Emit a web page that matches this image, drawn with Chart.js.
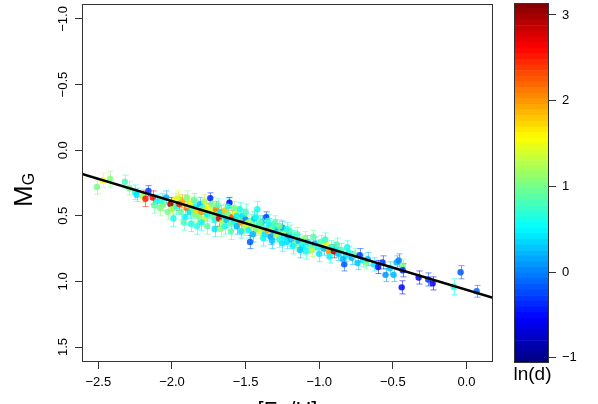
<!DOCTYPE html>
<html>
<head>
<meta charset="utf-8">
<script src="https://cdn.jsdelivr.net/npm/chart.js@4.4.1/dist/chart.umd.min.js"></script>
<style>
  html, body { margin: 0; padding: 0; background: #fff; overflow: hidden; }
  #wrap { position: relative; width: 598px; height: 404px; }
  #main { position: absolute; left: 0; top: 0; }
  #cbar { position: absolute; left: 500px; top: 0; }
</style>
</head>
<body>
<div id="wrap">
  <canvas id="main" width="510" height="404"></canvas>
  <canvas id="cbar" width="98" height="404"></canvas>
</div>
<script>
// ---- data ----
const feh = [
  -2.51, -2.47, -2.42, -2.32, -2.29, -2.25, -2.24, -2.20, -2.18, -2.16,
  -2.13, -2.10, -2.08, -2.06, -2.04, -2.01, -2.00, -1.98, -1.97, -1.95,
  -1.94, -1.93, -1.91, -1.90, -1.89, -1.88, -1.87, -1.86, -1.85, -1.84,
  -1.83, -1.82, -1.81, -1.80, -1.79, -1.78, -1.77, -1.76, -1.75, -1.74,
  -1.73, -1.72, -1.71, -1.70, -1.69, -1.68, -1.67, -1.66, -1.65, -1.64,
  -1.63, -1.62, -1.61, -1.60, -1.59, -1.58, -1.57, -1.56, -1.55, -1.54,
  -1.53, -1.52, -1.51, -1.50, -1.49, -1.48, -1.47, -1.46, -1.45, -1.44,
  -1.43, -1.42, -1.41, -1.40, -1.39, -1.38, -1.37, -1.36, -1.35, -1.34,
  -1.33, -1.32, -1.31, -1.30, -1.29, -1.28, -1.27, -1.26, -1.25, -1.24,
  -1.23, -1.22, -1.21, -1.20, -1.19, -1.17, -1.16, -1.14, -1.12, -1.11,
  -1.10, -1.08, -1.06, -1.05, -1.03, -1.01, -0.99, -0.97, -0.95, -0.935,
  -0.92, -0.90, -0.89, -0.87, -0.85, -0.83, -0.82, -0.80, -0.78, -0.76,
  -0.74, -0.725, -0.70, -0.68, -0.67, -0.63, -0.60, -0.57, -0.55, -0.52,
  -0.495, -0.475, -0.46, -0.433, -0.433, -0.44, -0.325, -0.26, -0.23, -0.087,
  -0.04, 0.069,
  -2.12, -2.07, -2.03, -1.99, -1.96, -1.92, -1.90, -1.87, -1.85, -1.83,
  -1.80, -1.78, -1.76, -1.73, -1.71, -1.69, -1.67, -1.64, -1.62, -1.60,
  -1.58, -1.56, -1.53, -1.50, -1.48, -1.45, -1.43, -1.40, -1.38, -1.35,
  -1.32, -1.30, -1.27, -1.25, -1.22, -1.18, -1.15, -1.13, -1.09, -1.04,
  -1.00, -0.96, -0.93, -0.88, -0.84, -0.81
];
const mg = [
  0.28, 0.23, 0.22, 0.24, 0.29, 0.32, 0.34, 0.35, 0.37, 0.31,
  0.36, 0.39, 0.44, 0.41, 0.36, 0.41, 0.45, 0.38, 0.43, 0.41,
  0.47, 0.39, 0.51, 0.44, 0.42, 0.47, 0.40, 0.45, 0.49, 0.43,
  0.46, 0.50, 0.41, 0.47, 0.44, 0.52, 0.46, 0.49, 0.43, 0.365,
  0.50, 0.47, 0.53, 0.45, 0.49, 0.52, 0.47, 0.55, 0.50, 0.46,
  0.53, 0.49, 0.40, 0.56, 0.51, 0.54, 0.48, 0.58, 0.52, 0.45,
  0.55, 0.50, 0.59, 0.53, 0.56, 0.61, 0.70, 0.54, 0.58, 0.52,
  0.60, 0.45, 0.57, 0.62, 0.55, 0.59, 0.64, 0.51, 0.61, 0.57,
  0.66, 0.60, 0.63, 0.58, 0.65, 0.61, 0.68, 0.62, 0.59, 0.66,
  0.63, 0.70, 0.65, 0.62, 0.68, 0.66, 0.71, 0.69, 0.72, 0.74,
  0.67, 0.70, 0.73, 0.76, 0.71, 0.74, 0.70, 0.75, 0.72, 0.77,
  0.74, 0.77, 0.75, 0.79, 0.76, 0.87, 0.80, 0.78, 0.82, 0.80,
  0.86, 0.80, 0.84, 0.855, 0.83, 0.87, 0.89, 0.855, 0.95, 0.90,
  0.95, 0.855, 0.84, 0.88, 0.915, 1.045, 0.97, 0.985, 1.015, 1.04,
  0.93, 1.075,
  0.42, 0.38, 0.47, 0.52, 0.36, 0.55, 0.36, 0.56, 0.38, 0.58,
  0.55, 0.39, 0.58, 0.41, 0.60, 0.42, 0.60, 0.58, 0.43, 0.62,
  0.44, 0.50, 0.62, 0.47, 0.55, 0.64, 0.51, 0.55, 0.67, 0.54,
  0.69, 0.55, 0.58, 0.71, 0.60, 0.73, 0.64, 0.76, 0.77, 0.66,
  0.79, 0.68, 0.81, 0.72, 0.83, 0.74
];
const mgErr = [
  0.055, 0.055, 0.06, 0.05, 0.05, 0.055, 0.05, 0.05, 0.06, 0.04,
  0.05, 0.05, 0.06, 0.05, 0.05, 0.05, 0.05, 0.05, 0.06, 0.05,
  0.06, 0.05, 0.06, 0.05, 0.05, 0.05, 0.05, 0.06, 0.06, 0.05,
  0.05, 0.05, 0.05, 0.06, 0.05, 0.06, 0.05, 0.05, 0.05, 0.04,
  0.05, 0.05, 0.05, 0.06, 0.05, 0.06, 0.05, 0.05, 0.05, 0.05,
  0.06, 0.05, 0.04, 0.05, 0.05, 0.06, 0.05, 0.06, 0.05, 0.05,
  0.05, 0.05, 0.06, 0.05, 0.05, 0.06, 0.05, 0.05, 0.05, 0.05,
  0.05, 0.06, 0.05, 0.05, 0.05, 0.06, 0.05, 0.04, 0.05, 0.05,
  0.06, 0.05, 0.05, 0.05, 0.05, 0.05, 0.06, 0.05, 0.05, 0.05,
  0.05, 0.05, 0.05, 0.05, 0.05, 0.05, 0.06, 0.05, 0.05, 0.05,
  0.05, 0.05, 0.05, 0.05, 0.05, 0.05, 0.05, 0.05, 0.05, 0.05,
  0.05, 0.05, 0.05, 0.05, 0.05, 0.05, 0.05, 0.05, 0.05, 0.05,
  0.05, 0.05, 0.05, 0.05, 0.05, 0.05, 0.05, 0.05, 0.05, 0.05,
  0.05, 0.05, 0.05, 0.05, 0.05, 0.05, 0.05, 0.05, 0.05, 0.06,
  0.05, 0.045,
  0.06, 0.05, 0.06, 0.06, 0.05, 0.06, 0.05, 0.06, 0.05, 0.06,
  0.06, 0.05, 0.06, 0.05, 0.06, 0.05, 0.06, 0.06, 0.06, 0.06,
  0.05, 0.06, 0.05, 0.06, 0.05, 0.06, 0.05, 0.05, 0.06, 0.05,
  0.06, 0.05, 0.05, 0.06, 0.05, 0.06, 0.05, 0.06, 0.06, 0.05,
  0.06, 0.05, 0.05, 0.05, 0.05, 0.05
];
const lnd = [
  1.0, 1.5, 1.1, 0.8, 1.0, 0.6, 0.4, 1.2, 2.5, -0.3,
  2.6, 0.5, 1.1, 1.0, 0.2, 3.0, 1.3, 1.6, 0.7, 2.5,
  0.9, 1.9, 0.5, 2.2, 1.2, 0.4, 1.5, 0.9, 1.0, 0.6,
  1.7, 1.1, 0.3, 2.0, 0.8, 1.3, 1.3, 0.5, 1.6, -0.4,
  0.9, 1.4, 0.6, 2.1, 1.0, 2.7, 0.4, 1.2, 0.7, 1.8,
  0.3, 1.1, -0.5, 0.8, 2.3, 0.6, 1.5, 0.2, 1.0, 0.6,
  2.0, 0.4, 1.2, 0.0, 1.6, 0.5, -0.2, 0.9, 1.2, 0.3,
  1.1, 0.6, 0.7, 1.4, 0.2, 0.8, 0.4, -0.3, 1.9, 0.5,
  0.1, 1.0, 0.3, 0.7, 1.3, 0.2, 0.6, 0.9, 0.1, 0.5,
  1.2, 0.4, 0.0, 0.8, 0.3, 0.6, 1.0, 0.2, 0.7, 0.5,
  1.1, 0.4, 0.8, 1.3, 0.3, 0.6, 0.9, 0.2, 1.6, 2.0,
  0.7, 3.0, 0.5, 0.3, 0.8, -0.2, 0.4, 0.6, 0.2, 0.9,
  0.3, -0.3, 0.5, 1.0, 0.2, 0.4, -0.6, -0.3, 0.1, 0.3,
  0.2, 0.2, 0.0, 1.0, -0.4, -0.5, -0.5, -0.3, -0.6, 0.6,
  -0.2, -0.1,
  0.9, 0.7, 1.0, 0.6, 1.4, 0.8, 1.0, 0.6, 0.9, 0.7,
  0.5, 1.2, 0.9, 1.0, 0.4, 0.8, 1.1, 0.6, 0.7, 0.9,
  1.0, 0.5, 0.4, 0.8, 1.3, 0.2, 0.6, 0.9, 0.5, 0.7,
  0.3, 0.8, 1.0, 0.4, 0.6, 0.5, 0.8, 0.3, 0.6, 0.9,
  0.4, 0.7, 0.5, 0.8, 0.2, 0.6
];
// linear fit  M_G = a + b*[Fe/H]
const fitIntercept = 1.064;
const fitSlope = 0.338;

const xTicks = [-2.5, -2.0, -1.5, -1.0, -0.5, 0.0];
const yTicks = [-1.0, -0.5, 0.0, 0.5, 1.0, 1.5];
const cbTicks = [-1, 0, 1, 2, 3];

const X_MIN = -2.611, X_MAX = 0.18;
const Y_MIN = -1.114, Y_MAX = 1.614;
const CB_MIN = -1.06, CB_MAX = 3.14;
const N_COLORS = 64;

const FONT = '"Liberation Sans", Arial, Helvetica, sans-serif';

function clamp(v) { return Math.max(0, Math.min(1, v)); }
function jet(t) {
  const r = clamp(1.5 - Math.abs(4 * t - 3));
  const g = clamp(1.5 - Math.abs(4 * t - 2));
  const b = clamp(1.5 - Math.abs(4 * t - 1));
  return [Math.round(r * 255), Math.round(g * 255), Math.round(b * 255)];
}
const palette = [];
for (let i = 0; i < N_COLORS; i++) palette.push(jet((i + 0.5) / N_COLORS));

function colorFor(v, alpha) {
  let k = Math.floor((v - CB_MIN) / (CB_MAX - CB_MIN) * N_COLORS);
  k = Math.max(0, Math.min(N_COLORS - 1, k));
  const c = palette[k];
  return `rgba(${c[0]},${c[1]},${c[2]},${alpha})`;
}
function fmt(v) { return v.toFixed(1).replace('-', '\u2212'); }
function noPad(s) { s.paddingTop = 0; s.paddingBottom = 0; s.paddingLeft = 0; s.paddingRight = 0; }

// ---- plugins ----
const errorBars = {
  id: 'errorBars',
  beforeDatasetsDraw(chart) {
    const { ctx, scales: { x, y } } = chart;
    ctx.save();
    ctx.lineWidth = 1;
    feh.forEach((v, i) => {
      const px = Math.round(x.getPixelForValue(v)) + 0.5;
      const y0 = y.getPixelForValue(mg[i] - mgErr[i]);
      const y1 = y.getPixelForValue(mg[i] + mgErr[i]);
      ctx.strokeStyle = colorFor(lnd[i], 0.55);
      ctx.beginPath();
      ctx.moveTo(px, y0); ctx.lineTo(px, y1);
      ctx.moveTo(px - 3, y0); ctx.lineTo(px + 3, y0);
      ctx.moveTo(px - 3, y1); ctx.lineTo(px + 3, y1);
      ctx.stroke();
    });
    ctx.restore();
  }
};

const mainDecor = {
  id: 'mainDecor',
  afterDraw(chart) {
    const { ctx, chartArea: a, scales: { y } } = chart;
    ctx.save();
    ctx.strokeStyle = '#333';
    ctx.lineWidth = 1;
    ctx.strokeRect(a.left + 0.5, a.top + 0.5, a.right - a.left - 1, a.bottom - a.top - 1);

    // rotated y tick labels, R style
    ctx.fillStyle = '#000';
    ctx.font = '13px ' + FONT;
    ctx.textAlign = 'center';
    ctx.textBaseline = 'alphabetic';
    yTicks.forEach(v => {
      const py = y.getPixelForValue(v);
      ctx.save();
      ctx.translate(67, py);
      ctx.rotate(-Math.PI / 2);
      ctx.fillText(fmt(v), 0, 0);
      ctx.restore();
    });

    // y title M_G
    ctx.save();
    ctx.translate(32, 207);
    ctx.rotate(-Math.PI / 2);
    ctx.textAlign = 'left';
    ctx.font = '26px ' + FONT;
    ctx.fillText('M', 0, 0);
    const w = ctx.measureText('M').width;
    ctx.font = '16px ' + FONT;
    ctx.fillText('G', w, 2);
    ctx.restore();

    // x title (cut at the bottom edge as in the figure)
    ctx.font = '22px ' + FONT;
    ctx.textAlign = 'center';
    ctx.textBaseline = 'top';
    ctx.fillText('[Fe/H]', (a.left + a.right) / 2, 400);
    ctx.restore();
  }
};

// ---- main scatter ----
new Chart(document.getElementById('main'), {
  type: 'scatter',
  data: {
    datasets: [
      {
        type: 'line',
        data: [
          { x: X_MIN, y: fitIntercept + fitSlope * X_MIN },
          { x: X_MAX, y: fitIntercept + fitSlope * X_MAX }
        ],
        borderColor: '#000',
        borderWidth: 2.5,
        pointRadius: 0,
        order: 0
      },
      {
        data: feh.map((v, i) => ({ x: v, y: mg[i] })),
        pointRadius: 3.2,
        pointBorderWidth: 0,
        pointBackgroundColor: lnd.map(v => colorFor(v, 0.85)),
        order: 1
      }
    ]
  },
  options: {
    responsive: false,
    animation: false,
    layout: { padding: { top: 2, right: 17, left: 0, bottom: 0 } },
    plugins: { legend: { display: false }, tooltip: { enabled: false } },
    scales: {
      x: {
        type: 'linear',
        min: X_MIN, max: X_MAX,
        afterFit: s => { s.height = 42; noPad(s); },
        afterBuildTicks: s => { s.ticks = xTicks.map(v => ({ value: v })); },
        border: { display: false },
        grid: { drawOnChartArea: false, tickLength: 7, tickColor: '#333' },
        ticks: {
          font: { family: FONT, size: 13 }, color: '#000', padding: 6,
          maxRotation: 0, autoSkip: false, callback: v => fmt(v)
        }
      },
      y: {
        type: 'linear',
        reverse: true,
        min: Y_MIN, max: Y_MAX,
        afterFit: s => { s.width = 82; noPad(s); },
        afterBuildTicks: s => { s.ticks = yTicks.map(v => ({ value: v })); },
        border: { display: false },
        grid: { drawOnChartArea: false, tickLength: 7, tickColor: '#333' },
        ticks: { display: false }
      }
    }
  },
  plugins: [errorBars, mainDecor]
});

// ---- colour bar ----
const bandSets = palette.map((c, i) => {
  const lo = CB_MIN + (CB_MAX - CB_MIN) * i / N_COLORS;
  const hi = CB_MIN + (CB_MAX - CB_MIN) * (i + 1) / N_COLORS;
  return {
    data: [[lo, hi]],
    backgroundColor: `rgb(${c[0]},${c[1]},${c[2]})`,
    borderWidth: 0,
    grouped: false,
    barPercentage: 1,
    categoryPercentage: 1
  };
});

const cbarDecor = {
  id: 'cbarDecor',
  afterDraw(chart) {
    const { ctx, chartArea: a } = chart;
    ctx.save();
    ctx.strokeStyle = '#333';
    ctx.lineWidth = 1;
    ctx.strokeRect(a.left + 0.5, a.top + 0.5, a.right - a.left - 1, a.bottom - a.top - 1);
    ctx.fillStyle = '#000';
    ctx.font = '19px ' + FONT;
    ctx.textAlign = 'center';
    ctx.textBaseline = 'middle';
    ctx.fillText('ln(d)', (a.left + a.right) / 2 + 1, 375);
    ctx.restore();
  }
};

new Chart(document.getElementById('cbar'), {
  type: 'bar',
  data: { labels: [''], datasets: bandSets },
  options: {
    responsive: false,
    animation: false,
    layout: { padding: { left: 14, top: 3, bottom: 41, right: 0 } },
    plugins: { legend: { display: false }, tooltip: { enabled: false } },
    scales: {
      x: { display: false },
      y: {
        position: 'right',
        min: CB_MIN, max: CB_MAX,
        afterFit: s => { s.width = 49; noPad(s); },
        afterBuildTicks: s => { s.ticks = cbTicks.map(v => ({ value: v })); },
        border: { display: false },
        grid: { drawOnChartArea: false, tickLength: 7, tickColor: '#333' },
        ticks: {
          font: { family: FONT, size: 13 }, color: '#000', padding: 6,
          callback: v => String(v).replace('-', '\u2212')
        }
      }
    }
  },
  plugins: [cbarDecor]
});
</script>
</body>
</html>
